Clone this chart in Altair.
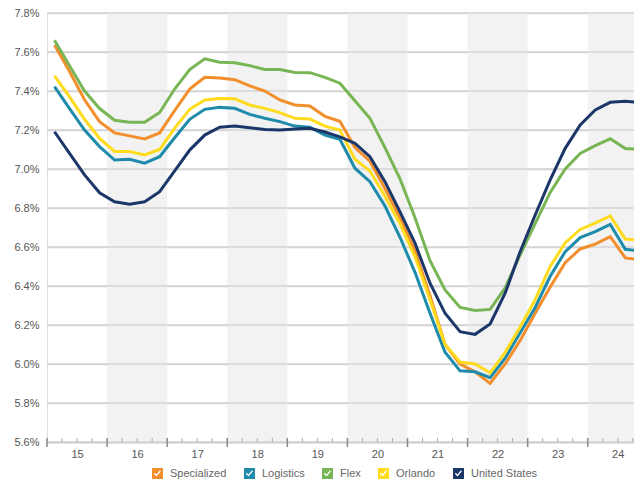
import altair as alt
import pandas as pd

series_names = ["Specialized", "Logistics", "Flex", "Orlando", "United States"]
series_colors = ["#F28E2B", "#1F8BAA", "#78B554", "#FFDB1D", "#1B3668"]

# quarterly points 2015 Q1 .. 2024 Q4 (last quarter beyond the visible edge)
specialized = [7.636, 7.50, 7.355, 7.243, 7.185, 7.17, 7.154, 7.185, 7.30, 7.41,
               7.47, 7.467, 7.458, 7.426, 7.40, 7.354, 7.328, 7.323, 7.27, 7.245,
               7.11, 7.04, 6.90, 6.75, 6.58, 6.35, 6.10, 6.00, 5.96, 5.90,
               6.00, 6.12, 6.26, 6.395, 6.52, 6.59, 6.615, 6.653, 6.544, 6.535]
logistics = [7.422, 7.31, 7.20, 7.115, 7.046, 7.05, 7.03, 7.063, 7.16, 7.255,
             7.306, 7.316, 7.311, 7.28, 7.26, 7.243, 7.22, 7.214, 7.174, 7.152,
             7.004, 6.935, 6.81, 6.65, 6.47, 6.26, 6.06, 5.965, 5.96, 5.93,
             6.03, 6.16, 6.29, 6.45, 6.576, 6.648, 6.679, 6.716, 6.588, 6.579]
flex = [7.66, 7.53, 7.40, 7.31, 7.25, 7.24, 7.24, 7.29, 7.41, 7.51,
        7.565, 7.548, 7.545, 7.53, 7.51, 7.51, 7.495, 7.494, 7.47, 7.44,
        7.35, 7.26, 7.11, 6.95, 6.75, 6.53, 6.38, 6.29, 6.275, 6.28,
        6.39, 6.56, 6.72, 6.88, 7.00, 7.08, 7.12, 7.155, 7.105, 7.10]
orlando = [7.477, 7.37, 7.255, 7.157, 7.09, 7.09, 7.072, 7.10, 7.21, 7.306,
           7.354, 7.362, 7.36, 7.328, 7.311, 7.289, 7.26, 7.256, 7.22, 7.20,
           7.05, 6.99, 6.86, 6.72, 6.55, 6.33, 6.10, 6.01, 6.00, 5.955,
           6.06, 6.19, 6.33, 6.50, 6.622, 6.69, 6.723, 6.759, 6.641, 6.634]
united_states = [7.191, 7.08, 6.97, 6.878, 6.832, 6.819, 6.832, 6.884, 6.99, 7.097,
                 7.174, 7.214, 7.22, 7.212, 7.203, 7.20, 7.205, 7.209, 7.19, 7.165,
                 7.132, 7.063, 6.935, 6.78, 6.62, 6.414, 6.26, 6.166, 6.152, 6.205,
                 6.363, 6.576, 6.764, 6.944, 7.106, 7.226, 7.303, 7.342, 7.347, 7.342]

years = [15, 16, 17, 18, 19, 20, 21, 22, 23, 24]
shaded_years = [16, 18, 20, 22, 24]
y_ticks = [5.6, 5.8, 6.0, 6.2, 6.4, 6.6, 6.8, 7.0, 7.2, 7.4, 7.6, 7.8]

W, H = 587, 429
X_MIN, X_MAX = 15.0, 24.77

all_series = [specialized, logistics, flex, orlando, united_states]
rows = []
for name, vals in zip(series_names, all_series):
    for k, v in enumerate(vals):
        rows.append({"series": name, "t": 15 + 0.125 + 0.25 * k, "rate": v, "order": series_names.index(name)})
df = pd.DataFrame(rows)

bands = pd.DataFrame({"start": shaded_years, "end": [y + 1 for y in shaded_years]})
minor = pd.DataFrame({"t": [y + q for y in years for q in (0.25, 0.5, 0.75)]})
major = pd.DataFrame({"t": years})

xscale = alt.Scale(domain=[X_MIN, X_MAX], nice=False, zero=False)
yscale = alt.Scale(domain=[5.6, 7.8], nice=False, zero=False)
FONT = "Liberation Sans"

xaxis = alt.Axis(values=years, format="d", labelOffset=30, labelFontSize=11,
                 labelColor="#555555", labelFont=FONT, ticks=False, grid=False,
                 domain=True, domainColor="#bbbbbb", domainWidth=1.5,
                 labelPadding=6, labelFlush=False, labelBound=False,
                 labelOverlap=False, title=None)
yaxis = alt.Axis(values=y_ticks, labelExpr="format(datum.value, '.1f') + '%'",
                 labelFontSize=11, labelColor="#555555", labelFont=FONT,
                 ticks=False, domain=False, grid=True, gridColor="#d4d4d4",
                 gridWidth=1.5, labelPadding=8, title=None)

CHECK = ("M-1,-1L1,-1L1,1L-1,1Z "
         "M-0.18,0.55L0.62,-0.42L0.45,-0.58L-0.18,0.2L-0.5,-0.12L-0.66,0.04Z")

color_scale = alt.Scale(domain=series_names, range=series_colors)

legend_layer = alt.Chart(df).mark_point(filled=True, size=0, shape=CHECK, opacity=1, strokeWidth=0).encode(
    x=alt.X("t:Q", scale=xscale, axis=xaxis),
    y=alt.Y("rate:Q", scale=yscale, axis=yaxis),
    color=alt.Color("series:N", sort=series_names, scale=color_scale,
                    legend=alt.Legend(
                        title=None, orient="none", direction="horizontal",
                        legendX=105, legendY=455,
                        symbolType=CHECK, symbolSize=121, symbolStrokeWidth=0,
                        symbolOpacity=1,
                        labelFontSize=11, labelColor="#666666", labelFont=FONT,
                        labelOffset=7, columnPadding=17)),
)

band_layer = alt.Chart(bands).mark_rect(color="#f2f2f2", clip=True).encode(
    x=alt.X("start:Q", scale=xscale, axis=xaxis),
    x2="end:Q",
)

grid_layer = alt.Chart(pd.DataFrame({"v": y_ticks})).mark_rule(color="#d4d4d4", strokeWidth=1.5).encode(
    y=alt.Y("v:Q", scale=yscale, axis=yaxis),
)

minor_layer = alt.Chart(minor).mark_rule(color="#aaaaaa", strokeWidth=1).encode(
    x=alt.X("t:Q", scale=xscale, axis=xaxis),
    y=alt.value(H - 4),
    y2=alt.value(H),
)
major_layer = alt.Chart(major).mark_rule(color="#888888", strokeWidth=1.5).encode(
    x=alt.X("t:Q", scale=xscale, axis=xaxis),
    y=alt.value(H - 4),
    y2=alt.value(H + 5),
)

line_layer = alt.Chart(df).mark_line(strokeWidth=3, clip=True).encode(
    x=alt.X("t:Q", scale=xscale, axis=xaxis),
    y=alt.Y("rate:Q", scale=yscale, axis=yaxis),
    color=alt.Color("series:N", sort=series_names, scale=color_scale, legend=None),
    order="order:Q",
)

chart = alt.layer(legend_layer, band_layer, grid_layer, minor_layer, major_layer, line_layer).properties(
    width=W, height=H,
    autosize=alt.AutoSizeParams(type="none"),
    padding={"left": 39, "top": 5, "right": 0, "bottom": 40},
).configure_view(stroke=None).configure(background="white")

chart.save("out.html", embed_options={"renderer": "svg", "actions": False})
